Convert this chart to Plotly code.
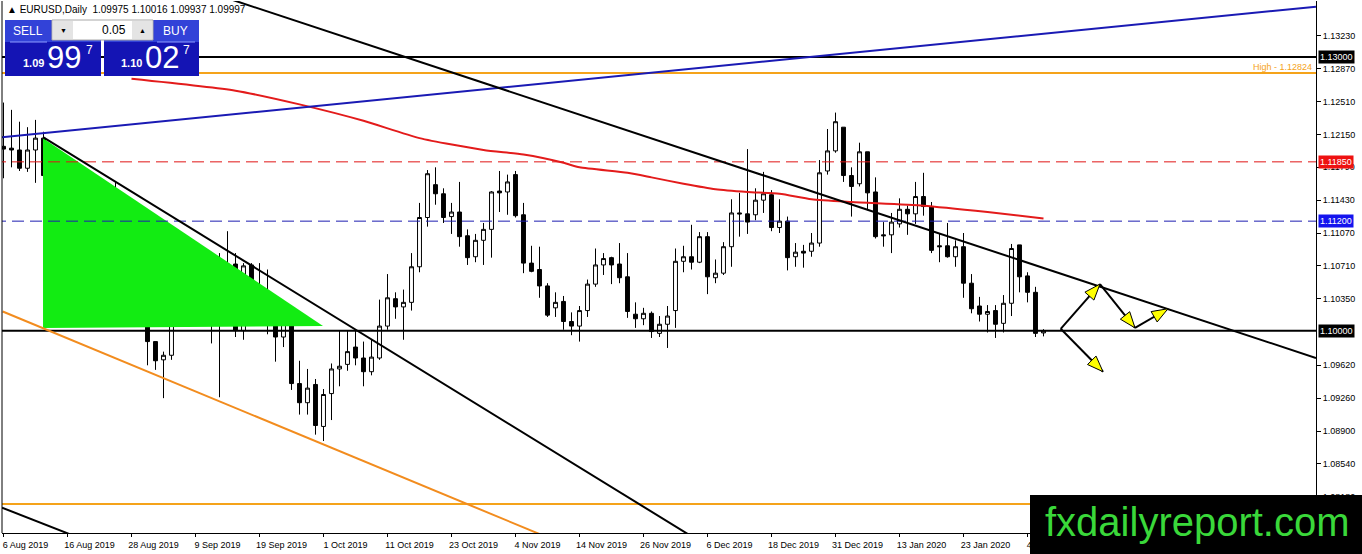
import math
import plotly.graph_objects as go

# EURUSD daily candles, 6 Aug 2019 .. 6 Feb 2020 (bar index 0..130)
opens = [
    1.1202, 1.1200, 1.1198, 1.1178, 1.1198, 1.1211, 1.1170, 1.1138, 1.1106, 1.1091,
    1.1076, 1.1098, 1.1083, 1.1079, 1.1145, 1.1101, 1.1090, 1.1078, 1.1056, 1.0988,
    1.0968, 1.0973, 1.1035, 1.1034, 1.1026, 1.1046, 1.1042, 1.1010, 1.1063, 1.1073,
    1.1000, 1.1072, 1.1027, 1.1041, 1.1016, 1.0993, 1.1018, 1.0942, 1.0921, 1.0941,
    1.0895, 1.0931, 1.0958, 1.0963, 1.0982, 1.0970, 1.0955, 1.0970, 1.1005, 1.1035,
    1.1026, 1.1031, 1.1070, 1.1124, 1.1160, 1.1150, 1.1125, 1.1130, 1.1104, 1.1081,
    1.1099, 1.1111, 1.1153, 1.1152, 1.1171, 1.1127, 1.1074, 1.1067, 1.1049, 1.1025,
    1.1032, 1.1010, 1.1005, 1.1022, 1.1051, 1.1072, 1.1080, 1.1073, 1.1059, 1.1018,
    1.1013, 1.1019, 1.0997, 1.1007, 1.1022, 1.1076, 1.1081, 1.1075, 1.1103, 1.1058,
    1.1063, 1.1092, 1.1129, 1.1128, 1.1127, 1.1143, 1.1149, 1.1113, 1.1120, 1.1081,
    1.1087, 1.1087, 1.1096, 1.1175, 1.1197, 1.1223, 1.1170, 1.1161, 1.1196, 1.1152,
    1.1105, 1.1105, 1.1117, 1.1133, 1.1128, 1.1147, 1.1136, 1.1093, 1.1093, 1.1081,
    1.1092, 1.1052, 1.1027, 1.1018, 1.1022, 1.1008, 1.1030, 1.1094, 1.1060, 1.1042,
    1.09975,
]
highs = [
    1.1250, 1.1242, 1.1229, 1.1223, 1.1231, 1.1218, 1.1190, 1.1160, 1.1113, 1.1114,
    1.1107, 1.1103, 1.1113, 1.1152, 1.1163, 1.1116, 1.1096, 1.1080, 1.1056, 1.0988,
    1.0977, 1.1037, 1.1084, 1.1058, 1.1069, 1.1057, 1.1045, 1.1085, 1.1109, 1.1085,
    1.1074, 1.1074, 1.1074, 1.1067, 1.1024, 1.1021, 1.1020, 1.0967, 1.0958, 1.0947,
    1.0936, 1.0964, 1.1000, 1.1000, 1.1000, 1.0988, 1.0990, 1.1034, 1.1062, 1.1042,
    1.1045, 1.1085, 1.1140, 1.1176, 1.1179, 1.1156, 1.1140, 1.1163, 1.1111, 1.1106,
    1.1118, 1.1153, 1.1175, 1.1171, 1.1175, 1.1140, 1.1093, 1.1092, 1.1052, 1.1042,
    1.1038, 1.1020, 1.1027, 1.1056, 1.1090, 1.1085, 1.1081, 1.1096, 1.1085, 1.1031,
    1.1025, 1.1021, 1.1016, 1.1027, 1.1090, 1.1093, 1.1116, 1.1108, 1.1108, 1.1078,
    1.1097, 1.1144, 1.1151, 1.1199, 1.1156, 1.1174, 1.1154, 1.1144, 1.1125, 1.1096,
    1.1094, 1.1107, 1.1187, 1.1221, 1.1239, 1.1223, 1.1179, 1.1206, 1.1196, 1.1168,
    1.1119, 1.1129, 1.1145, 1.1137, 1.1163, 1.1173, 1.1141, 1.1107, 1.1118, 1.1099,
    1.1107, 1.1062, 1.1037, 1.1028, 1.1028, 1.1039, 1.1095, 1.1094, 1.1064, 1.1048,
    1.10016,
]
lows = [
    1.1167, 1.1179, 1.1175, 1.1174, 1.1162, 1.1168, 1.1130, 1.1092, 1.1067, 1.1075,
    1.1066, 1.1080, 1.1063, 1.1050, 1.1092, 1.1086, 1.1072, 1.1041, 1.0962, 1.0957,
    1.0926, 1.0968, 1.1016, 1.1019, 1.1014, 1.1030, 1.0986, 1.0927, 1.1054, 1.0993,
    1.0990, 1.1014, 1.1015, 1.0996, 1.0966, 1.0982, 1.0935, 1.0908, 1.0908, 1.0886,
    1.0879, 1.0902, 1.0939, 1.0956, 1.0962, 1.0939, 1.0951, 1.0968, 1.1001, 1.1013,
    1.0990, 1.1022, 1.1064, 1.1114, 1.1138, 1.1118, 1.1106, 1.1092, 1.1072, 1.1075,
    1.1072, 1.1080, 1.1130, 1.1127, 1.1124, 1.1063, 1.1064, 1.1036, 1.1015, 1.1015,
    1.1001, 1.0995, 1.0988, 1.1015, 1.1048, 1.1061, 1.1051, 1.1052, 1.1014, 1.1003,
    1.1006, 1.0992, 1.0993, 1.0981, 1.1003, 1.1064, 1.1067, 1.1074, 1.1040, 1.1052,
    1.1061, 1.1070, 1.1103, 1.1106, 1.1121, 1.1129, 1.1109, 1.1107, 1.1066, 1.1070,
    1.1069, 1.1081, 1.1092, 1.1171, 1.1195, 1.1163, 1.1125, 1.1158, 1.1132, 1.1101,
    1.1092, 1.1085, 1.1113, 1.1105, 1.1117, 1.1126, 1.1085, 1.1075, 1.1080, 1.1070,
    1.1036, 1.1019, 1.1010, 1.0998, 1.0992, 1.0998, 1.1016, 1.1042, 1.1031, 1.0993,
    1.09937,
]
closes = [
    1.1199, 1.1198, 1.1178, 1.1198, 1.1211, 1.1170, 1.1138, 1.1106, 1.1088, 1.1076,
    1.1098, 1.1082, 1.1079, 1.1141, 1.1101, 1.1088, 1.1075, 1.1054, 1.0988, 1.0967,
    1.0973, 1.1032, 1.1034, 1.1027, 1.1046, 1.1042, 1.1010, 1.1062, 1.1073, 1.1000,
    1.1071, 1.1027, 1.1041, 1.1015, 1.0993, 1.1019, 1.0942, 1.0921, 1.0937, 1.0896,
    1.0930, 1.0958, 1.0961, 1.0977, 1.0970, 1.0955, 1.0971, 1.1005, 1.1036, 1.1026,
    1.1031, 1.1070, 1.1124, 1.1172, 1.1150, 1.1124, 1.1130, 1.1103, 1.1080, 1.1099,
    1.1111, 1.1152, 1.1151, 1.1163, 1.1126, 1.1074, 1.1065, 1.1049, 1.1017, 1.1031,
    1.1010, 1.1005, 1.1022, 1.1051, 1.1072, 1.1079, 1.1072, 1.1058, 1.1021, 1.1013,
    1.1019, 1.0999, 1.1007, 1.1016, 1.1076, 1.1081, 1.1075, 1.1103, 1.1059, 1.1063,
    1.1092, 1.1129, 1.1128, 1.1119, 1.1143, 1.1150, 1.1113, 1.1120, 1.1080, 1.1086,
    1.1085, 1.1096, 1.1173, 1.1197, 1.1229, 1.1170, 1.1158, 1.1196, 1.1151, 1.1103,
    1.1104, 1.1119, 1.1133, 1.1128, 1.1147, 1.1136, 1.1088, 1.1092, 1.1081, 1.1092,
    1.1052, 1.1024, 1.1018, 1.1021, 1.1007, 1.1030, 1.1090, 1.1059, 1.1042, 1.0997,
    1.09997,
]
bars = list(range(len(opens)))

# date labels every 8 bars
label_bars = [0, 8, 16, 24, 32, 40, 48, 56, 64, 72, 80, 88, 96, 104, 112, 120, 128]
label_text = ["6 Aug 2019", "16 Aug 2019", "28 Aug 2019", "9 Sep 2019", "19 Sep 2019",
              "1 Oct 2019", "11 Oct 2019", "23 Oct 2019", "4 Nov 2019", "14 Nov 2019",
              "26 Nov 2019", "6 Dec 2019", "18 Dec 2019", "31 Dec 2019", "13 Jan 2020",
              "23 Jan 2020", "4 Feb 2020"]

price_ticks = [1.1323, 1.1287, 1.1251, 1.1215, 1.1179, 1.1143, 1.1107, 1.1071,
               1.1035, 1.0962, 1.0926, 1.0890, 1.0854, 1.0818]

# 200 MA (red)
ma_bars = [16, 29, 37, 45, 52, 60, 65, 70, 72, 78, 81, 85, 89, 93, 97, 101, 106, 115, 123, 130]
ma_values = [1.1276, 1.1263, 1.1248, 1.1230, 1.1211, 1.1198, 1.1193, 1.1184, 1.1179, 1.1173,
             1.1168, 1.1161, 1.1155, 1.1152, 1.1150, 1.1144, 1.1141, 1.1137, 1.1130, 1.1123]

# horizontal levels
level_black = [1.1300, 1.1000]
level_high = 1.12824
level_red = 1.1185
level_blue = 1.1120
level_low_orange = 1.0810

# trend lines: (bar, price) end points
blue_line = [(-0.19, 1.1212), (164.06, 1.1355)]
black_line_long = [(25, 1.1373), (164.06, 1.0970)]
black_line_wedge = [(4.94, 1.1212), (90, 1.0753)]
black_line_low = [(-0.19, 1.0806), (10, 1.0771)]
orange_line = [(-0.1, 1.1021), (75, 1.0748)]
green_triangle = [(4.94, 1.1211), (39.94, 1.1005), (4.94, 1.1003)]

# scenario arrows
arrows = [
    [(132.15, 1.1002), (137.06, 1.1051)],
    [(137.06, 1.1051), (141.44, 1.1003)],
    [(141.44, 1.1003), (145.56, 1.1024)],
    [(132.15, 1.1002), (137.44, 1.0955)],
]

W, H = 1362, 554
L, R, T, B = 2, 1316, 1, 533
x_range = [-0.1875, 164.0625]
y_range = [1.07782, 1.13613]
PX_BAR = (R - L) / (x_range[1] - x_range[0])
PX_PRICE = (B - T) / (y_range[1] - y_range[0])


def px_x(px):
    return (px - L) / (R - L)


def px_y(py):
    return (B - py) / (B - T)


FONT = "Liberation Sans"
ORANGE = "#f5a31a"

fig = go.Figure()

# green triangle (background)
fig.add_trace(go.Scatter(
    x=[p[0] for p in green_triangle], y=[p[1] for p in green_triangle],
    fill="toself", fillcolor="#12ec12", line=dict(width=0), mode="lines",
    hoverinfo="skip"))

# candles
fig.add_trace(go.Candlestick(
    x=bars, open=opens, high=highs, low=lows, close=closes,
    increasing=dict(line=dict(color="black", width=1), fillcolor="white"),
    decreasing=dict(line=dict(color="black", width=1), fillcolor="black"),
    whiskerwidth=0, hoverinfo="skip"))

xs_full = [x_range[0] - 1, x_range[1] + 1]


def hline(y, color, width, dash="solid"):
    fig.add_trace(go.Scatter(x=xs_full, y=[y, y], mode="lines",
                             line=dict(color=color, width=width, dash=dash),
                             hoverinfo="skip"))


def seg(pts, color, width):
    fig.add_trace(go.Scatter(x=[p[0] for p in pts], y=[p[1] for p in pts], mode="lines",
                             line=dict(color=color, width=width), hoverinfo="skip"))


hline(level_red, "#e01515", 1, "12px,6px")
hline(level_blue, "#1c1cb0", 1, "12px,6px")
hline(level_high, ORANGE, 2)
hline(level_low_orange, ORANGE, 2)
for lv in level_black:
    hline(lv, "black", 2)

fig.add_trace(go.Scatter(x=ma_bars, y=ma_values, mode="lines",
                         line=dict(color="#e31b1b", width=2, shape="spline", smoothing=0.6),
                         hoverinfo="skip"))

seg(blue_line, "#1a1ab4", 2)
seg(black_line_long, "black", 2)
seg(black_line_wedge, "black", 2)
seg(black_line_low, "black", 2)
seg(orange_line, "#f28c1e", 2)

# arrows: black shaft + yellow head
for (x0, y0), (x1, y1) in arrows:
    seg([(x0, y0), (x1, y1)], "black", 2)
    dx = (x1 - x0) * PX_BAR
    dy = (y1 - y0) * PX_PRICE
    ln = math.hypot(dx, dy)
    ux, uy = dx / ln, dy / ln
    nx, ny = -uy, ux
    head_len, half_w = 16, 6
    bx, by = -ux * head_len, -uy * head_len
    pts = [(0, 0), (bx + nx * half_w, by + ny * half_w), (bx - nx * half_w, by - ny * half_w), (0, 0)]
    fig.add_trace(go.Scatter(
        x=[x1 + p[0] / PX_BAR for p in pts], y=[y1 + p[1] / PX_PRICE for p in pts],
        mode="lines", fill="toself", fillcolor="#ffff00",
        line=dict(color="black", width=1), hoverinfo="skip"))

shapes = [
    # left frame
    dict(type="line", xref="paper", yref="paper", x0=0, x1=0, y0=0, y1=1,
         line=dict(color="black", width=1)),
    # sell / buy panel
    dict(type="rect", xref="paper", yref="paper", x0=px_x(5), x1=px_x(101), y0=px_y(42), y1=px_y(20),
         fillcolor="#3242d8", line=dict(width=0), layer="above"),
    dict(type="rect", xref="paper", yref="paper", x0=px_x(5), x1=px_x(101), y0=px_y(76), y1=px_y(42),
         fillcolor="#1414b4", line=dict(width=0), layer="above"),
    dict(type="rect", xref="paper", yref="paper", x0=px_x(104), x1=px_x(199), y0=px_y(42), y1=px_y(20),
         fillcolor="#3242d8", line=dict(width=0), layer="above"),
    dict(type="rect", xref="paper", yref="paper", x0=px_x(104), x1=px_x(199), y0=px_y(76), y1=px_y(42),
         fillcolor="#1414b4", line=dict(width=0), layer="above"),
    dict(type="line", xref="paper", yref="paper", x0=px_x(10), x1=px_x(47), y0=px_y(42), y1=px_y(42),
         line=dict(color="#8d9cff", width=1), layer="above"),
    dict(type="line", xref="paper", yref="paper", x0=px_x(157), x1=px_x(195), y0=px_y(42), y1=px_y(42),
         line=dict(color="#8d9cff", width=1), layer="above"),
    dict(type="rect", xref="paper", yref="paper", x0=px_x(52), x1=px_x(153), y0=px_y(40), y1=px_y(20),
         fillcolor="white", line=dict(color="#a8a8a8", width=1), layer="above"),
    dict(type="rect", xref="paper", yref="paper", x0=px_x(53), x1=px_x(73), y0=px_y(39), y1=px_y(21),
         fillcolor="#e4e4e4", line=dict(width=0), layer="above"),
    dict(type="rect", xref="paper", yref="paper", x0=px_x(132), x1=px_x(152), y0=px_y(39), y1=px_y(21),
         fillcolor="#e4e4e4", line=dict(width=0), layer="above"),
    # logo box
    dict(type="rect", xref="paper", yref="paper", x0=px_x(1030), x1=px_x(1362), y0=px_y(554), y1=px_y(495),
         fillcolor="black", line=dict(width=0), layer="above"),
]


def txt(px, py, text, size, color="white", anchor="center", family=FONT):
    return dict(xref="paper", yref="paper", x=px_x(px), y=px_y(py), text=text, showarrow=False,
                xanchor=anchor, yanchor="middle", font=dict(family=family, size=size, color=color))


annotations = [
    txt(5, 10, "▲ EURUSD,Daily  1.09975 1.10016 1.09937 1.09997", 10, "black", "left"),
    txt(28, 31, "SELL", 12),
    txt(175, 31, "BUY", 12),
    txt(128, 30, "0.05", 12, "black", "right"),
    txt(63, 30, "▼", 7, "black"),
    txt(142, 30, "▲", 7, "black"),
    txt(33, 63, "<b>1.09</b>", 11),
    txt(64, 58, "99", 31),
    txt(89, 50, "7", 12),
    txt(131, 63, "<b>1.10</b>", 11),
    txt(162, 58, "02", 31),
    txt(186, 50, "7", 12),
    txt(1197, 522, "fxdailyreport.com", 40, "#3ad83a"),
    dict(xref="paper", yref="y", x=1, y=level_high, xanchor="right", yanchor="bottom",
         xshift=-2, yshift=-1, text="High - 1.12824", showarrow=False,
         font=dict(family=FONT, size=9, color=ORANGE)),
]

for val, bg in [(1.1300, "black"), (level_red, "#ee1111"), (level_blue, "#1414ee"), (1.1000, "black")]:
    annotations.append(dict(xref="paper", yref="y", x=1, y=val, xanchor="left", yanchor="middle",
                            xshift=2, text=f"{val:.5f}", showarrow=False, bgcolor=bg, borderpad=1,
                            font=dict(family=FONT, size=9, color="white")))

fig.update_layout(
    width=W, height=H,
    margin=dict(l=L, r=W - R, t=T, b=H - B),
    paper_bgcolor="white", plot_bgcolor="white",
    showlegend=False, hovermode=False,
    shapes=shapes, annotations=annotations,
    xaxis=dict(range=x_range, showgrid=False, zeroline=False, showline=True,
               linecolor="black", linewidth=1, ticks="outside", ticklen=3, tickcolor="black",
               tickvals=label_bars, ticktext=label_text, ticklabelshift=22,
               tickfont=dict(family=FONT, size=9, color="black"),
               rangeslider=dict(visible=False), fixedrange=True),
    yaxis=dict(range=y_range, side="right", showgrid=False, zeroline=False, showline=True,
               linecolor="black", linewidth=1, ticks="outside", ticklen=4, tickcolor="black",
               tickvals=price_ticks, ticktext=[f"{v:.5f}" for v in price_ticks],
               tickfont=dict(family=FONT, size=9, color="black"), fixedrange=True),
)

# the page's default body margin would push the figure 8px down and right
fig.write_html("out.html", config={"displayModeBar": False},
               post_script="document.body.style.margin = '0';")
